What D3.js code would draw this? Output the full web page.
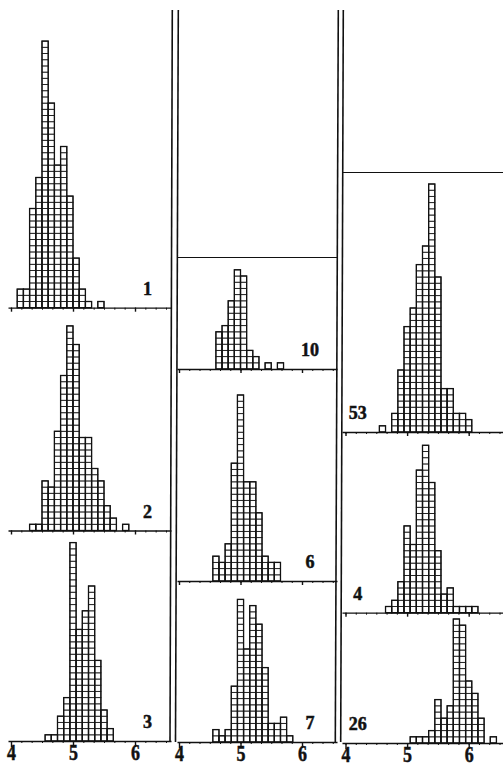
<!DOCTYPE html>
<html><head><meta charset="utf-8">
<script src="https://cdn.jsdelivr.net/npm/d3@7"></script>
<style>html,body{margin:0;padding:0;background:#fff;} svg{display:block}</style>
</head><body>
<script>
// ---------- data ----------
const panelNames = ["1", "2", "3", "10", "6", "7", "53", "4", "26"];
const binStarts  = [4.1, 4.3, 4.55, 4.6, 4.55, 4.55, 4.55, 4.65, 5.05];
const binWidth = 0.1;
const counts1  = [3, 3, 16, 21, 43, 33, 23, 26, 18, 8, 3, 1, 0, 1];
const counts2  = [1, 1, 8, 7, 16, 25, 33, 30, 15, 15, 10, 8, 4, 2, 0, 1];
const counts3  = [1, 1, 4, 7, 32, 18, 21, 25, 13, 5, 2];
const counts10 = [6, 7, 11, 16, 15, 3, 2, 0, 1, 0, 1];
const counts6  = [4, 3, 6, 19, 30, 16, 16, 11, 4, 3, 3];
const counts7  = [2, 1, 2, 9, 23, 15, 22, 19, 12, 3, 3, 4, 1];
const counts53 = [1, 0, 3, 10, 17, 20, 27, 30, 40, 25, 7, 7, 3, 3, 2];
const counts4  = [1, 2, 5, 14, 11, 23, 27, 21, 10, 3, 4, 1, 1, 1, 1];
const counts26 = [1, 1, 1, 2, 7, 4, 6, 20, 19, 10, 8, 4, 0, 1];
const axisTickLabels = [4, 5, 6];
const allCounts = [counts1, counts2, counts3, counts10, counts6, counts7, counts53, counts4, counts26];

// ---------- layout ----------
const W = 503, H = 766;
const cellH = 6.2;
const cols = [
  { x4: 11,    unit: 62,   left: 8,   right: 171, labelAt: 6.2 },
  { x4: 179,   unit: 61.5, left: 177, right: 337, labelAt: 6.13 },
  { x4: 345.5, unit: 61.6, left: 342, right: 503, labelAt: 4.2 }
];
const baselines = [307.7, 530.5, 741, 369, 581, 742, 432, 612.7, 743];
const vLines = [[172.3, 10, 170, 742], [178.3, 10, 175.5, 742], [338.3, 10, 335.3, 742], [343.3, 10, 340.7, 742]];

const svg = d3.select("body").append("svg").attr("width", W).attr("height", H);
svg.append("rect").attr("width", W).attr("height", H).attr("fill", "#fff");

// vertical double rules
svg.selectAll("line.v").data(vLines).join("line")
  .attr("x1", d => d[0]).attr("y1", d => d[1]).attr("x2", d => d[2]).attr("y2", d => d[3])
  .attr("stroke", "#111").attr("stroke-width", 1.6);

// top rules of middle and right columns
svg.append("line").attr("x1", 177).attr("x2", 338).attr("y1", 257.5).attr("y2", 257.5).attr("stroke", "#111").attr("stroke-width", 1.1);
svg.append("line").attr("x1", 342).attr("x2", 503).attr("y1", 172.5).attr("y2", 172.5).attr("stroke", "#111").attr("stroke-width", 1.1);

const labelFont = sel => sel
  .attr("fill", "#111").attr("stroke", "#111").attr("stroke-width", 0.5)
  .style("font-family", "'Liberation Serif', serif").style("font-weight", "bold");

panelNames.forEach((name, p) => {
  const c = cols[Math.floor(p / 3)];
  const bottomRow = p % 3 === 2;
  const base = baselines[p];
  const x = d3.scaleLinear().domain([4, 7]).range([c.x4, c.x4 + 3 * c.unit]);
  const y = d3.scaleLinear().domain([0, 50]).range([base, base - 50 * cellH]);
  const g = svg.append("g");
  const counts = allCounts[p];
  const cells = [];
  counts.forEach((n, i) => {
    for (let k = 0; k < n; k++) cells.push({ v: binStarts[p] + i * binWidth, k });
  });
  g.selectAll("rect.cell").data(cells).join("rect")
    .attr("x", d => x(d.v))
    .attr("width", x(4 + binWidth) - x(4))
    .attr("y", d => y(d.k + 1))
    .attr("height", y(0) - y(1))
    .attr("fill", "#fff").attr("stroke", "#1a1a1a").attr("stroke-width", 0.9);
  // column outlines
  g.selectAll("rect.col").data(counts.map((n, i) => ({ v: binStarts[p] + i * binWidth, n })).filter(d => d.n > 0)).join("rect")
    .attr("x", d => x(d.v))
    .attr("width", x(4 + binWidth) - x(4))
    .attr("y", d => y(d.n))
    .attr("height", d => y(0) - y(d.n))
    .attr("fill", "none").attr("stroke", "#111").attr("stroke-width", 1.3);

  // axis
  const xa = x.copy().domain([x.invert(c.left), x.invert(c.right)]).range([c.left, c.right]);
  const minor = d3.range(24, 40).map(k => k / 6).filter(v => v >= xa.domain()[0] && v <= xa.domain()[1]);
  const ax = g.append("g").attr("transform", `translate(0,${base})`);
  ax.call(d3.axisBottom(xa).tickValues(minor).tickSize(2).tickSizeOuter(0).tickFormat(""));
  ax.select(".domain").attr("stroke", "#111").attr("stroke-width", 1.3);
  ax.selectAll(".tick line").attr("stroke", "#111").attr("stroke-width", 1);
  const maj = g.append("g").attr("transform", `translate(0,${base})`);
  maj.call(d3.axisBottom(xa).tickValues(axisTickLabels).tickSize(bottomRow ? 6 : 4)
      .tickFormat(bottomRow ? d3.format("d") : ""));
  maj.select(".domain").remove();
  maj.selectAll(".tick line").attr("stroke", "#111").attr("stroke-width", 1.4);
  maj.selectAll(".tick text")
    .attr("y", 3).attr("dy", "0.71em")
    .attr("transform", "scale(0.78,1)")
    .call(labelFont).style("font-size", "23px");

  // panel label
  g.append("text").text(name)
    .attr("x", x(c.labelAt)).attr("y", base - 13)
    .attr("text-anchor", "middle")
    .call(labelFont).style("font-size", "18px");
});
</script>
</body></html>
